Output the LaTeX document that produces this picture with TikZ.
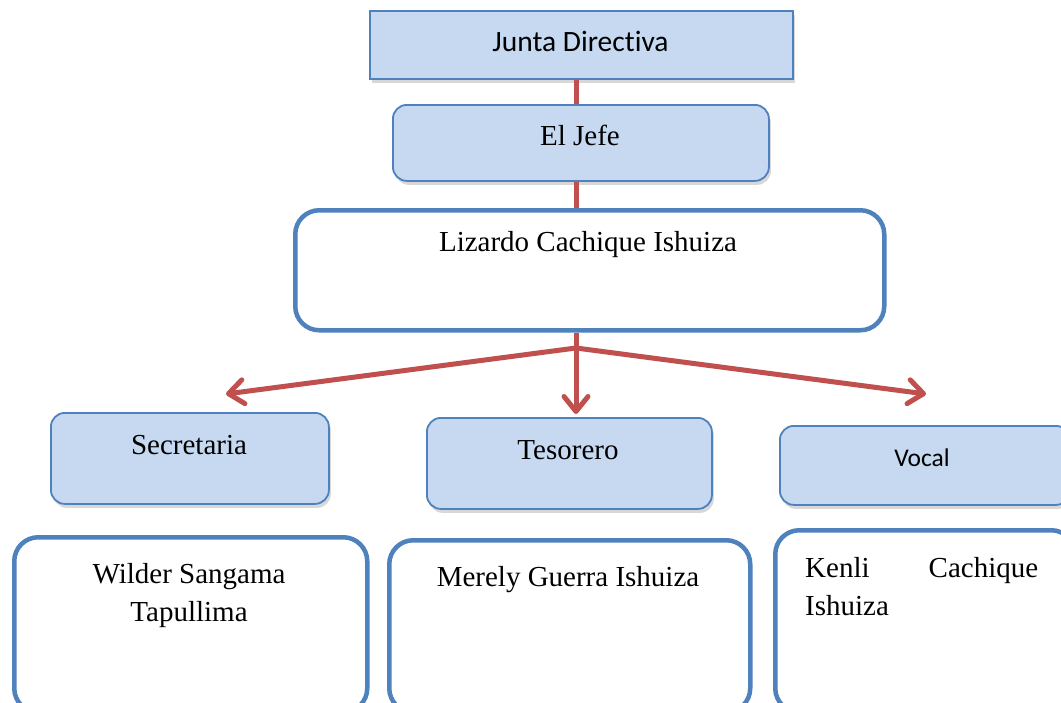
\documentclass[tikz,border=0pt]{standalone}
\usepackage{fontspec}
\setmainfont{Liberation Serif}
\newfontfamily\calfont[Ligatures=NoCommon]{Carlito}
\usetikzlibrary{arrows.meta,shadows,calc}
\definecolor{boxfill}{HTML}{C6D9F1}
\definecolor{boxline}{HTML}{4F81BD}
\definecolor{conred}{HTML}{C0504D}
\tikzset{
  bluebox/.style={draw=boxline, line width=1.8pt, fill=boxfill, anchor=north west, inner sep=0pt,
    drop shadow={opacity=0.3, shadow xshift=2pt, shadow yshift=-4pt}},
  whitebox/.style={draw=boxline, line width=4.5pt, fill=white, anchor=north west, inner sep=0pt, rounded corners=24pt},
  tnr/.style={font=\fontsize{29}{38}\selectfont, inner sep=0pt, align=center},
  cal/.style={font=\calfont\fontsize{29.5}{34}\selectfont, inner sep=0pt},
  conn/.style={draw=conred, line width=5pt},
  arr/.style={conn, -{Straight Barb[length=15pt,width=24pt,line cap=round,line join=round]}, line cap=round}
}
\begin{document}
\begin{tikzpicture}[x=1pt,y=-1pt]
\useasboundingbox (0,0) rectangle (1061,702);
\clip (0,0) rectangle (1061,702);
\fill[white] (0,0) rectangle (1061,702);
% spine coordinates
\coordinate (junction) at (576,348);
\coordinate (tipL) at (226,394);
\coordinate (tipC) at (576,414);
\coordinate (tipR) at (926,394);
% boxes
\node[bluebox, minimum width=423pt, minimum height=68pt] (junta) at (369,10) {};
\node[cal] (juntat) at (580.5,41) {Junta Directiva};
\node[bluebox, rounded corners=14pt, minimum width=376pt, minimum height=76pt] (jefe) at (392,104) {};
\node[tnr] (jefet) at (580,135) {El Jefe};
\node[whitebox, minimum width=589pt, minimum height=120pt] (liz) at (293,208) {};
\node[tnr] (lizt) at (588,245) {Lizardo Cachique Ishuiza};
\node[bluebox, rounded corners=14pt, minimum width=278pt, minimum height=91pt] (sec) at (50,412) {};
\node[tnr] (sect) at (189,445) {Secretaria};
\node[bluebox, rounded corners=14pt, minimum width=285pt, minimum height=91pt] (tes) at (426,417) {};
\node[tnr] (test) at (568,450) {Tesorero};
\node[bluebox, rounded corners=14pt, minimum width=290pt, minimum height=79pt] (voc) at (779,425) {};
\node[cal, font=\calfont\fontsize{25.5}{30}\selectfont] (voct) at (922,458) {Vocal};
\node[whitebox, minimum width=353pt, minimum height=175pt] (wil) at (12,535) {};
\node[tnr] (wilt) at (189,596) {Wilder Sangama\\Tapullima};
\node[whitebox, minimum width=361pt, minimum height=172pt] (mer) at (387,538) {};
\node[tnr] (mert) at (568,580) {Merely Guerra Ishuiza};
\node[whitebox, minimum width=300pt, minimum height=182pt] (ken) at (773,528) {};
\node[tnr, anchor=north west, align=left, text width=233pt] (kent) at (805,557) {Kenli\hfill Cachique\\Ishuiza};
% connectors
\draw[conn] (junta.south -| junction) -- (jefe.north -| junction);
\draw[conn] (jefe.south -| junction) -- (liz.north -| junction);
\draw[conn] (liz.south -| junction) -- (junction);
\draw[arr] (junction) -- (tipL);
\draw[arr] (junction) -- (tipC);
\draw[arr] (junction) -- (tipR);
\end{tikzpicture}
\end{document}
